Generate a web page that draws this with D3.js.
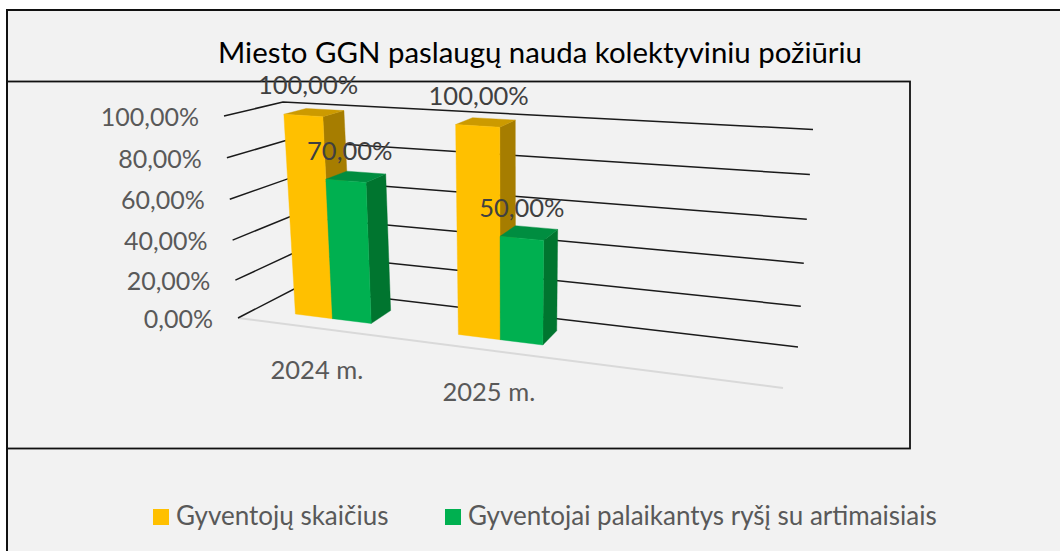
<!DOCTYPE html>
<html><head><meta charset="utf-8">
<style>html,body{margin:0;padding:0;background:#fff}svg{display:block}text{font-family:Lato,"Noto Sans",sans-serif}</style>
<script src="https://cdn.jsdelivr.net/npm/d3@7"></script>
</head><body><svg id="c" width="1060" height="551"></svg>
<script>
const title = "Miesto GGN paslaugų nauda kolektyviniu požiūriu";
const categories = ["2024 m.", "2025 m."];
const seriesNames = ["Gyventojų skaičius", "Gyventojai palaikantys ryšį su artimaisiais"];
const populationValues = [100, 100];
const contactValues = [70, 50];
const yTicks = [0, 20, 40, 60, 80, 100];
const pct = v => v.toFixed(2).replace(".", ",") + "%";

const svg = d3.select("#c");
const W = 1060, H = 551;

// Scene corners of the 3-D box on screen: [category side][depth side][value side]
const corners = {
  fbl: [238, 318], fbr: [783, 388], bbl: [296, 288], bbr: [798, 347],
  ftl: [224, 116], ftr: [798, 152], btl: [283, 102], btr: [813, 129.5]
};
function project(u, d, t) {
  const c = corners, mix = (a, b, k) => a + (b - a) * k;
  return [0, 1].map(i => {
    const bottom = mix(mix(c.fbl[i], c.fbr[i], u), mix(c.bbl[i], c.bbr[i], u), d);
    const top = mix(mix(c.ftl[i], c.ftr[i], u), mix(c.btl[i], c.btr[i], u), d);
    return mix(bottom, top, t);
  });
}
const yScale = d3.scalePow().exponent(1.04).domain([0, 100]).range([0, 1]);
// Category axis keeps one empty slot at the far right, as in the source chart
const xBand = d3.scaleBand().domain([...categories, ""]).range([0, 0.9877]).paddingInner(0.518).paddingOuter(0.296);
const xSeries = d3.scaleBand().domain(seriesNames).range([0, xBand.bandwidth()]);
const persp = d3.scalePow().exponent(1.1).domain([0, 1]).range([0, 1]);
const depth = d3.scaleLinear().domain([0, 1]).range([0.3, 0.7]);

const colors = [
  { front: "#FFC000", top: "#CC9A00", side: "#A67D00" },
  { front: "#00B050", top: "#008D40", side: "#00752F" }
];

// Backgrounds and frames
svg.append("rect").attr("width", W).attr("height", H).attr("fill", "#fff");
svg.append("rect").attr("x", 7).attr("y", 10).attr("width", W - 7).attr("height", H - 10).attr("fill", "#f2f2f2");
const frame = svg.append("g").attr("stroke", "#111").attr("fill", "none");
frame.append("path").attr("d", "M7,551V10H1060").attr("stroke-width", 2);
frame.append("rect").attr("x", 7).attr("y", 81.5).attr("width", 903).attr("height", 367).attr("stroke-width", 1.8);

const line = d3.line();
// Floor front edge
svg.append("path").attr("d", line([project(0, 0, 0), project(1, 0, 0)]))
  .attr("stroke", "#d9d9d9").attr("stroke-width", 2).attr("fill", "none");
// Gridlines: side wall + back wall
svg.append("g").selectAll("path").data(yTicks).join("path")
  .attr("d", v => { const t = yScale(v); return line([project(0, 0, t), project(0, 1, t), project(1, 1, t)]); })
  .attr("stroke", "#1a1a1a").attr("stroke-width", 1.5).attr("fill", "none");

// Tick labels
svg.append("g").selectAll("text").data(yTicks).join("text")
  .attr("x", v => project(0, 0, yScale(v))[0] - 25)
  .attr("y", v => project(0, 0, yScale(v))[1] + 0)
  .attr("text-anchor", "end").attr("dominant-baseline", "central")
  .attr("font-size", 25).attr("fill", "#595959").text(pct);

// Bars
const seriesValues = [populationValues, contactValues];
const labels = [];
const barsG = svg.append("g");
categories.forEach((cat, ci) => {
  seriesNames.forEach((name, si) => {
    const val = seriesValues[si][ci];
    const u0 = persp(xBand(cat) + xSeries(name));
    const u1 = persp(xBand(cat) + xSeries(name) + xSeries.bandwidth());
    const d0 = depth(0), d1 = depth(1), t = yScale(val);
    const poly = (pts, fill) => barsG.append("polygon")
      .attr("points", pts.map(p => p.join(",")).join(" ")).attr("fill", fill)
      .attr("stroke", fill).attr("stroke-width", 0.4);
    poly([project(u1, d0, 0), project(u1, d1, 0), project(u1, d1, t), project(u1, d0, t)], colors[si].side);
    poly([project(u0, d0, t), project(u1, d0, t), project(u1, d1, t), project(u0, d1, t)], colors[si].top);
    poly([project(u0, d0, 0), project(u1, d0, 0), project(u1, d0, t), project(u0, d0, t)], colors[si].front);
    const um = (u0 + u1) / 2;
    const c = project(um, d0, t);
    labels.push({ x: c[0] + 6 - 12 * um, y: c[1] - 31, text: pct(val) });
  });
});

// Data labels
svg.append("g").selectAll("text").data(labels).join("text")
  .attr("x", d => d.x).attr("y", d => d.y)
  .attr("text-anchor", "middle").attr("dominant-baseline", "central")
  .attr("font-size", 25.5).attr("fill", "#404040").text(d => d.text);

// Category labels
svg.append("g").selectAll("text").data(categories).join("text")
  .attr("x", c => project(persp(xBand(c) + xBand.bandwidth() / 2), 0, 0)[0])
  .attr("y", c => project(persp(xBand(c) + xBand.bandwidth() / 2), 0, 0)[1] + 40.5)
  .attr("text-anchor", "middle").attr("dominant-baseline", "central")
  .attr("font-size", 25.5).attr("fill", "#595959").text(c => c);

// Title
svg.append("text").attr("x", 540).attr("y", 51.5).attr("text-anchor", "middle")
  .attr("dominant-baseline", "central").attr("font-size", 29.4).attr("fill", "#000").text(title);

// Legend
const legendX = d3.scaleOrdinal().domain(seriesNames).range([153, 445]);
const lg = svg.append("g").selectAll("g").data(seriesNames).join("g")
  .attr("transform", n => `translate(${legendX(n)},509)`);
lg.append("rect").attr("width", 16).attr("height", 16).attr("fill", (n, i) => colors[i].front);
lg.append("text").attr("x", 23).attr("y", 6).attr("dominant-baseline", "central")
  .attr("font-size", 26).attr("fill", "#595959").text(n => n);
</script></body></html>
